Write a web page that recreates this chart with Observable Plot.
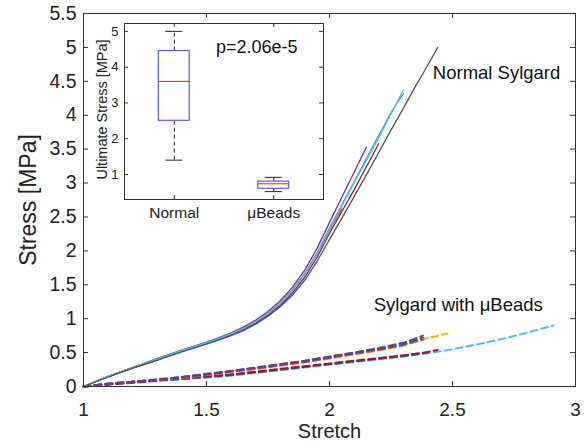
<!DOCTYPE html>
<html><head><meta charset="utf-8">
<script src="https://cdn.jsdelivr.net/npm/d3@7"></script>
<script src="https://cdn.jsdelivr.net/npm/@observablehq/plot@0.6"></script>
<style>
html,body{margin:0;padding:0;background:#fff;}
#wrap{position:relative;width:584px;height:443px;overflow:hidden;}
#inset{position:absolute;left:89px;top:17px;}
svg{display:block;}
</style></head><body><div id="wrap"><div id="main"></div><div id="inset"></div></div>
<script>
// ---------- main chart data ----------
const xTicks = [1, 1.5, 2, 2.5, 3];
const yTicks = [0, 0.5, 1, 1.5, 2, 2.5, 3, 3.5, 4, 4.5, 5, 5.5];

// Normal Sylgard (solid)
const gridA = [1.0,1.1,1.2,1.3,1.4,1.5,1.55,1.6,1.65,1.7,1.75,1.8,1.85,1.9,1.95,2.0,2.05,2.1,2.15,2.2,2.25,2.3,2.35,2.4,2.44];
const nGray   = [0,.14,.27,.39,.51,.625,.685,.75,.825,.92,1.035,1.175,1.35,1.57,1.85,2.17,2.48,2.80,3.12,3.45,3.78,4.10,4.43,4.74,5.0];
const nCyan   = [0,.15,.28,.40,.53,.645,.705,.775,.855,.955,1.075,1.225,1.415,1.655,1.955,2.32,2.66,3.00,3.33,3.67,4.02,4.37];
const nBlue   = [0,.15,.28,.41,.535,.65,.71,.78,.86,.96,1.08,1.235,1.43,1.67,1.975,2.34,2.68,3.02,3.36,3.70,4.04,4.32];
const nPurple = [0,.15,.28,.41,.535,.655,.72,.79,.875,.98,1.105,1.265,1.465,1.72,2.04,2.42,2.79,3.16,3.53];
const nRed    = [0,.14,.27,.39,.52,.635,.695,.765,.84,.935,1.05,1.195,1.38,1.615,1.91,2.26,2.58,2.90,3.24,3.58];
const nOrange = [0,.15,.28,.40,.53,.645,.705,.775,.855,.955,1.075,1.225,1.42,1.66,1.96,2.31,2.62];
const nGreen  = [0,.15,.28,.40,.53,.645,.705,.775,.855,.955,1.075,1.225,1.42];

// Sylgard with μBeads (dashed)
const gridB = [1.0,1.1,1.2,1.3,1.4,1.5,1.6,1.7,1.8,1.9,2.0,2.1,2.2,2.3,2.38,2.48];
const bPurple = [0,.04,.07,.10,.14,.18,.23,.28,.33,.38,.44,.50,.56,.64,.75];
const bBlue   = [0,.04,.07,.10,.14,.18,.22,.27,.32,.37,.43,.49,.55,.62,.72];
const bGreen  = [0,.04,.07,.11,.14,.19,.23,.28,.33,.38,.44,.50,.57,.65];
const bOrange = [0,.04,.07,.10,.13,.17,.22,.26,.31,.36,.42,.48,.54,.61,.69];
const bYellow = [0,.04,.07,.10,.13,.17,.21,.26,.31,.36,.41,.47,.53,.60,.70,.78];
const gridC = [1.0,1.1,1.2,1.3,1.4,1.5,1.6,1.7,1.8,1.9,2.0,2.1,2.2,2.3,2.4,2.44];
const bDarkRed = [0,.03,.06,.09,.12,.15,.18,.22,.26,.30,.34,.38,.42,.46,.51,.54];
const bNavy    = [0,.03,.06,.09,.11,.14,.17,.21,.25,.29,.33,.37,.41,.45,.50];
const gridD = [1.0,1.1,1.2,1.3,1.4,1.5,1.6,1.7,1.8,1.9,2.0,2.1,2.2,2.3,2.4,2.5,2.6,2.7,2.8,2.91];
const bLightBlue = [0,.03,.05,.08,.11,.13,.16,.20,.24,.28,.32,.36,.40,.44,.49,.55,.62,.70,.79,.90];

const annotLabels = ["Normal Sylgard", "Sylgard with μBeads"];
const annotX = [2.42, 2.18];
const annotY = [4.62, 1.2];

// ---------- inset data ----------
const insetCats = ["Normal", "μBeads"];
const insetPos = [1, 2];
const whiskLo = [1.4, 0.52];
const boxQ1 = [2.5, 0.60];
const boxMed = [3.6, 0.74];
const boxQ3 = [4.45, 0.80];
const whiskHi = [5.0, 0.92];
const insetYTicks = [1, 2, 3, 4, 5];
const pText = ["p=2.06e-5"];
const pX = [1.42], pY = [4.55];

// ---------- build ----------
const font = "'Liberation Sans', Arial, Helvetica, sans-serif";
function rows(xs, ys) { return ys.map((y, i) => ({x: xs[i], y})); }

const beads = [
  {xs: gridD, ys: bLightBlue, c: "#4DBEEE"},
  {xs: gridC, ys: bNavy, c: "#3b3f8c"},
  {xs: gridC, ys: bDarkRed, c: "#A2142F"},
  {xs: gridB, ys: bYellow, c: "#EDB120"},
  {xs: gridB, ys: bOrange, c: "#D95319"},
  {xs: gridB, ys: bGreen, c: "#77AC30"},
  {xs: gridB, ys: bBlue, c: "#0072BD"},
  {xs: gridB, ys: bPurple, c: "#7E2F8E"}
];
const normals = [
  {xs: gridA, ys: nGreen, c: "#77AC30"},
  {xs: gridA, ys: nOrange, c: "#D95319"},
  {xs: gridA, ys: nRed, c: "#A2142F"},
  {xs: gridA, ys: nPurple, c: "#7E2F8E"},
  {xs: gridA, ys: nBlue, c: "#3a9ad9"},
  {xs: gridA, ys: nCyan, c: "#4DBEEE"},
  {xs: gridA, ys: nGray, c: "#555555"}
];

const W = 584, H = 443, mL = 83, mR = 9, mT = 13, mB = 57;
const fW = W - mL - mR, fH = H - mT - mB;
const axisColor = "#333";

const main = Plot.plot({
  width: W, height: H, marginLeft: mL, marginRight: mR, marginTop: mT, marginBottom: mB,
  style: {fontFamily: font, background: "#fff", color: "#222"},
  x: {domain: [1, 3]},
  y: {domain: [0, 5.5]},
  marks: [
    ...beads.map(s => Plot.line(rows(s.xs, s.ys), {x: "x", y: "y", stroke: s.c, strokeWidth: 2, strokeDasharray: "7,4"})),
    ...normals.map(s => Plot.line(rows(s.xs, s.ys), {x: "x", y: "y", stroke: s.c, strokeWidth: 1.3})),
    Plot.frame({stroke: axisColor}),
    Plot.tickX(xTicks, {x: d => d, insetTop: fH - 5, stroke: axisColor}),
    Plot.tickX(xTicks, {x: d => d, insetBottom: fH - 5, stroke: axisColor}),
    Plot.tickY(yTicks, {y: d => d, insetRight: fW - 5, stroke: axisColor}),
    Plot.tickY(yTicks, {y: d => d, insetLeft: fW - 5, stroke: axisColor}),
    Plot.axisX(xTicks, {tickSize: 0, tickPadding: 16, fontSize: 19, label: null, tickFormat: d => String(d)}),
    Plot.axisY(yTicks, {tickSize: 0, tickPadding: 7, fontSize: 19.5, label: null, tickFormat: d => String(d)}),
    Plot.text(["Stress [MPa]"], {frameAnchor: "left", textAnchor: "middle", dx: -55, rotate: -90, fontSize: 23, fill: "#222"}),
    Plot.text(["Stretch"], {frameAnchor: "bottom", textAnchor: "middle", dy: 51, fontSize: 20, fill: "#222"}),
    Plot.text(annotLabels, {x: (d, i) => annotX[i], y: (d, i) => annotY[i], text: d => d, textAnchor: "start", fontSize: 18.5, fill: "#111"})
  ]
});
document.getElementById("main").append(main);

// inset
const iW = 237, iH = 209, iL = 35, iR = 3, iT = 6, iB = 27;
const ifW = iW - iL - iR, ifH = iH - iT - iB;
const boxHalf = 0.155, capHalf = 0.085;
const boxes = insetPos.map((p, i) => ({p, lo: whiskLo[i], q1: boxQ1[i], med: boxMed[i], q3: boxQ3[i], hi: whiskHi[i]}));

const inset = Plot.plot({
  width: iW, height: iH, marginLeft: iL, marginRight: iR, marginTop: iT, marginBottom: iB,
  style: {fontFamily: font, background: "#fff", color: "#222"},
  x: {domain: [0.5, 2.5]},
  y: {domain: [0.3, 5.22]},
  marks: [
    Plot.ruleX(boxes, {x: "p", y1: "q3", y2: "hi", stroke: "#222", strokeDasharray: "4,3"}),
    Plot.ruleX(boxes, {x: "p", y1: "lo", y2: "q1", stroke: "#222", strokeDasharray: "4,3"}),
    Plot.ruleY(boxes, {y: "hi", x1: d => d.p - capHalf, x2: d => d.p + capHalf, stroke: "#222"}),
    Plot.ruleY(boxes, {y: "lo", x1: d => d.p - capHalf, x2: d => d.p + capHalf, stroke: "#222"}),
    Plot.rect(boxes, {x1: d => d.p - boxHalf, x2: d => d.p + boxHalf, y1: "q1", y2: "q3", fill: "#fff", stroke: "#5a5ae0", strokeWidth: 1.2}),
    Plot.ruleY(boxes, {y: "med", x1: d => d.p - boxHalf, x2: d => d.p + boxHalf, stroke: "#f03c3c", strokeWidth: 1.2}),
    Plot.frame({stroke: axisColor}),
    Plot.tickX(insetPos, {x: d => d, insetTop: ifH - 4, stroke: axisColor}),
    Plot.tickX(insetPos, {x: d => d, insetBottom: ifH - 4, stroke: axisColor}),
    Plot.tickY(insetYTicks, {y: d => d, insetRight: ifW - 4, stroke: axisColor}),
    Plot.tickY(insetYTicks, {y: d => d, insetLeft: ifW - 4, stroke: axisColor}),
    Plot.axisX(insetPos, {tickSize: 0, tickPadding: 7, fontSize: 15.5, label: null, tickFormat: d => insetCats[d - 1]}),
    Plot.axisY(insetYTicks, {tickSize: 0, tickPadding: 6, fontSize: 13, label: null, tickFormat: d => String(d)}),
    Plot.text(["Ultimate Stress [MPa]"], {frameAnchor: "left", textAnchor: "middle", dx: -22, dy: -2, rotate: -90, fontSize: 14.5, fill: "#222"}),
    Plot.text(pText, {x: (d, i) => pX[i], y: (d, i) => pY[i], text: d => d, textAnchor: "start", fontSize: 18, fill: "#111"})
  ]
});
document.getElementById("inset").append(inset);
</script>
</body></html>
